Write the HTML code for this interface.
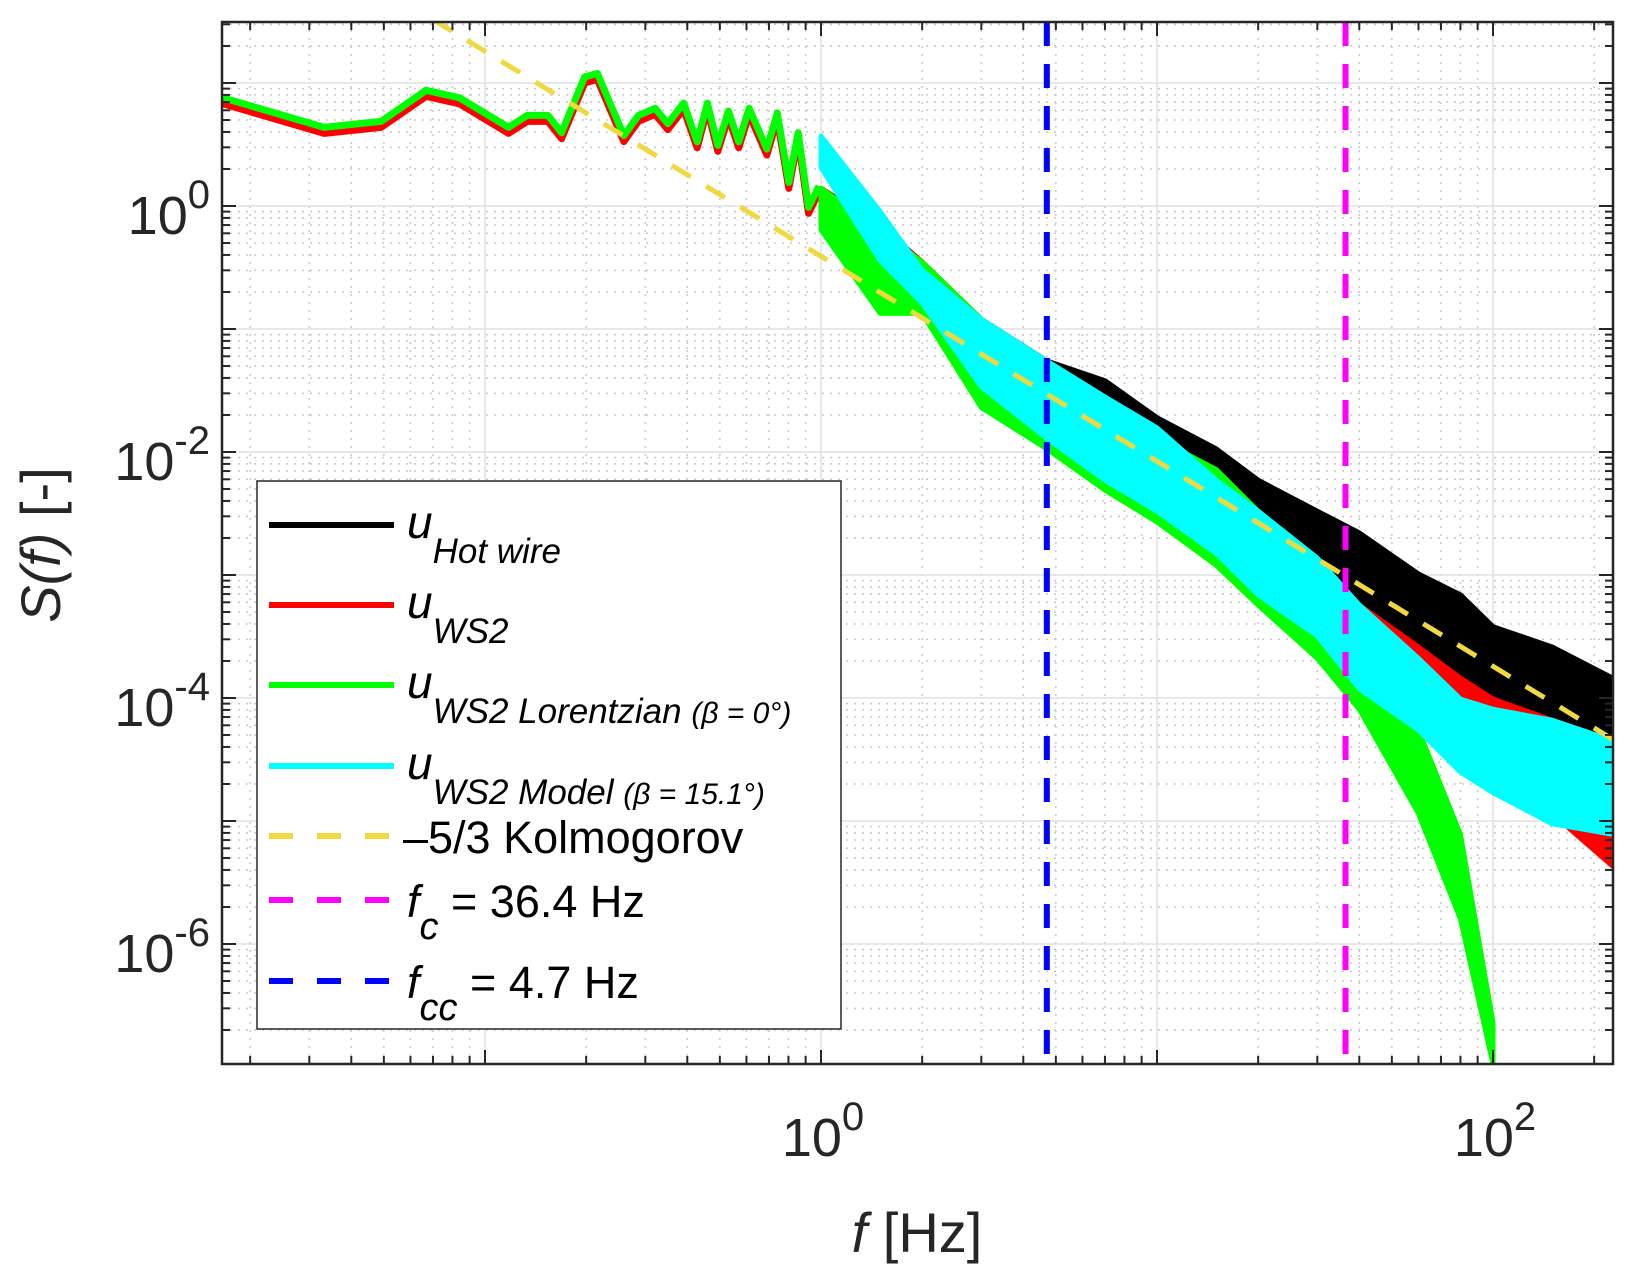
<!DOCTYPE html>
<html><head><meta charset="utf-8"><style>
html,body{margin:0;padding:0;background:#fff;}
svg{display:block;font-family:"Liberation Sans",sans-serif;}
</style></head><body>
<svg id="chart" width="1635" height="1278" viewBox="0 0 1635 1278" xmlns="http://www.w3.org/2000/svg">
<defs><clipPath id="clip"><rect x="222" y="22" width="1391" height="1042"/></clipPath></defs>
<g id="grid"></g>
<g id="series" clip-path="url(#clip)"></g>
<g id="axes"></g>
<text x="60" y="545" font-size="56" fill="#262626" text-anchor="middle" transform="rotate(-90 60 545)"><tspan font-style="italic">S(f)</tspan> [-]</text>
<text x="917" y="1252" font-size="56" fill="#262626" text-anchor="middle"><tspan font-style="italic">f</tspan> [Hz]</text>
<g id="legend">
<rect x="257" y="481" width="584" height="548" fill="#fff" stroke="#262626" stroke-width="1.5"/>
<g><line x1="269" y1="525" x2="394" y2="525" stroke="#000" stroke-width="6"/><text x="407" y="538" font-size="46" font-style="italic">u<tspan font-size="35" dy="25">Hot wire</tspan></text></g>
<g><line x1="269" y1="605" x2="394" y2="605" stroke="#f00" stroke-width="6"/><text x="407" y="618" font-size="46" font-style="italic">u<tspan font-size="35" dy="25">WS2</tspan></text></g>
<g><line x1="269" y1="685" x2="394" y2="685" stroke="#0f0" stroke-width="6"/><text x="407" y="698" font-size="46" font-style="italic">u<tspan font-size="35" dy="25">WS2 Lorentzian <tspan font-size="30">(β = 0°)</tspan></tspan></text></g>
<g><line x1="269" y1="766" x2="394" y2="766" stroke="#0ff" stroke-width="6"/><text x="407" y="779" font-size="46" font-style="italic">u<tspan font-size="35" dy="25">WS2 Model <tspan font-size="30">(β = 15.1°)</tspan></tspan></text></g>
<g><line x1="269" y1="836" x2="394" y2="836" stroke="#f0d840" stroke-width="6" stroke-dasharray="24,24"/><text x="403" y="853" font-size="45">–5/3 Kolmogorov</text></g>
<g><line x1="269" y1="900" x2="394" y2="900" stroke="#f0f" stroke-width="6" stroke-dasharray="24,24"/><text x="407" y="917" font-size="45"><tspan font-style="italic">f</tspan><tspan font-size="38" font-style="italic" dy="22">c</tspan><tspan dy="-22"> = 36.4 Hz</tspan></text></g>
<g><line x1="269" y1="981" x2="394" y2="981" stroke="#00f" stroke-width="6" stroke-dasharray="24,24"/><text x="407" y="998" font-size="45"><tspan font-style="italic">f</tspan><tspan font-size="38" font-style="italic" dy="22">cc</tspan><tspan dy="-22"> = 4.7 Hz</tspan></text></g>
</g>
</svg>
<script>
const lowFreq=[0.0166,0.0332,0.0491,0.0668,0.0839,0.1175,0.1336,0.154,0.169,0.198,0.216,0.259,0.286,0.321,0.350,0.390,0.428,0.459,0.493,0.530,0.569,0.611,0.690,0.741,0.802,0.855,0.918,0.986];
const lowVal=[7.3,4.2,4.7,8.4,7.3,4.2,5.25,5.25,3.8,10.8,11.5,3.6,5.25,6.0,4.5,6.6,3.2,6.6,3.0,5.7,3.2,6.0,2.8,5.5,1.5,3.8,0.94,1.4];
const bandFreq=[1,1.5,2,3,4.7,7,10,15,20,30,40,60,80,100,150,227];
const hotHi=[1.39,0.70,0.35,0.12,0.055,0.038,0.019,0.0106,0.0059,0.0033,0.0022,0.00102,0.00069,0.00038,0.00026,0.000145];
const hotLo=[0.78,0.24,0.163,0.034,0.019,0.0129,0.0087,0.0033,0.0018,0.00084,0.00047,0.00026,0.000119,0.000081,0.000055,0.000037];
const ws2Hi=[1.39,0.70,0.35,0.12,0.055,0.023,0.0129,0.0072,0.0033,0.00137,0.00057,0.00026,0.000145,0.000098,0.000066,0.000025];
const ws2Lo=[0.78,0.24,0.163,0.034,0.0157,0.0072,0.0033,0.0015,0.00084,0.00047,0.000176,0.000081,0.000045,0.000025,0.0000115,0.0000043];
const lorHi=[1.39,0.64,0.35,0.12,0.050,0.028,0.0129,0.0072,0.0033,0.00137,0.00038,0.000055,0.0000078,0.00000023];
const lorLo=[0.64,0.134,0.134,0.023,0.0106,0.0049,0.0027,0.0012,0.00057,0.00021,0.000081,0.0000115,0.0000016,0.000000106];
const modHi=[3.7,0.9,0.30,0.12,0.055,0.028,0.0157,0.0059,0.0033,0.00137,0.00057,0.00021,0.000098,0.000081,0.000066,0.000045];
const modLo=[2.06,0.36,0.163,0.034,0.0129,0.0059,0.0033,0.0015,0.00069,0.00032,0.000119,0.000055,0.000025,0.000017,0.0000095,0.0000078];
const kolmA=0.39, kolmF=[0.07,227];
const fcc=4.7, fc=36.4;
const xTicks=[1,100], xTickLabels=["0","2"];
const yTicks=[1,1e-2,1e-4,1e-6], yTickLabels=["0","-2","-4","-6"];

const L=222,R=1613,T=22,B=1064;
const X=f=>821+336*Math.log10(f);
const Y=v=>206-123*Math.log10(v);
const NS="http://www.w3.org/2000/svg";
function mk(tag,attrs,parent){const e=document.createElementNS(NS,tag);for(const k in attrs)e.setAttribute(k,attrs[k]);parent.appendChild(e);return e;}
const grid=document.getElementById('grid'),ser=document.getElementById('series'),ax=document.getElementById('axes');
for(let d=-2;d<=2;d++)for(let m=1;m<10;m++){const f=m*Math.pow(10,d);const x=X(f);if(x<=L||x>=R)continue;
 const g=mk('line',{x1:x,y1:T,x2:x,y2:B,stroke:m==1?'#e0e0e0':'#c8c8c8','stroke-width':1.5,'stroke-dasharray':m==1?'none':'2,6'},grid);
 
 
 mk('line',{x1:x,y1:B,x2:x,y2:B-(m==1?14:8),stroke:'#262626','stroke-width':2},ax);
 mk('line',{x1:x,y1:T,x2:x,y2:T+(m==1?14:8),stroke:'#262626','stroke-width':2},ax);}
for(let d=-8;d<=2;d++)for(let m=1;m<10;m++){const v=m*Math.pow(10,d);const y=Y(v);if(y<=T||y>=B)continue;
 const g=mk('line',{x1:L,y1:y,x2:R,y2:y,stroke:m==1?'#e0e0e0':'#c8c8c8','stroke-width':1.5,'stroke-dasharray':m==1?'none':'2,6'},grid);
 
 
 mk('line',{x1:L,y1:y,x2:L+(m==1?14:8),y2:y,stroke:'#262626','stroke-width':2},ax);
 mk('line',{x1:R,y1:y,x2:R-(m==1?14:8),y2:y,stroke:'#262626','stroke-width':2},ax);}
const box=mk('rect',{x:L,y:T,width:R-L,height:B-T,fill:'none',stroke:'#262626','stroke-width':2.5},ax);


function tickLabel(x,y,anchor,exp,name){const t=mk('text',{x:x,y:y,'font-size':54,fill:'#262626','text-anchor':anchor},ax);
 t.appendChild(document.createTextNode('10'));
 const s=mk('tspan',{'font-size':40,dy:-26},t);s.textContent=exp;
 
 }
xTicks.forEach((f,i)=>tickLabel(X(f)+2,1156,'middle',xTickLabels[i],'x-tick-label'));
yTicks.forEach((v,i)=>tickLabel(210,Y(v)+28,'end',yTickLabels[i],'y-tick-label'));
function band(hi,lo,color,name){const n=hi.length;let p=[];
 for(let i=0;i<n;i++)p.push(X(bandFreq[i])+','+Y(hi[i]));
 for(let i=n-1;i>=0;i--)p.push(X(bandFreq[i])+','+Y(lo[i]));
 const e=mk('polygon',{points:p.join(' '),fill:color,stroke:color,'stroke-width':5,'stroke-linejoin':'round'},ser);
 
 }
function low(color,off,name){const p=lowFreq.map((f,i)=>X(f)+','+(Y(lowVal[i])+off));
 const e=mk('polyline',{points:p.join(' '),fill:'none',stroke:color,'stroke-width':7,'stroke-linejoin':'round'},ser);
 
 }
low('#000',0,'hot-wire-low-freq');
band(hotHi,hotLo,'#000','hot-wire-band');
low('#f00',4,'ws2-low-freq');
band(ws2Hi,ws2Lo,'#f00','ws2-band');
low('#0f0',-2,'lorentzian-low-freq');
band(lorHi,lorLo,'#0f0','lorentzian-band');
band(modHi,modLo,'#0ff','model-band');
const k=mk('line',{x1:X(kolmF[0]),y1:Y(kolmA*Math.pow(kolmF[0],-5/3)),x2:X(kolmF[1]),y2:Y(kolmA*Math.pow(kolmF[1],-5/3)),stroke:'#f0d840','stroke-width':5,'stroke-dasharray':'22,18'},ser);


const v1=mk('line',{x1:X(fcc),y1:T,x2:X(fcc),y2:B,stroke:'#00f','stroke-width':6,'stroke-dasharray':'24,18'},ser);


const v2=mk('line',{x1:X(fc),y1:T,x2:X(fc),y2:B,stroke:'#f0f','stroke-width':6,'stroke-dasharray':'24,18'},ser);


</script>
</body></html>
